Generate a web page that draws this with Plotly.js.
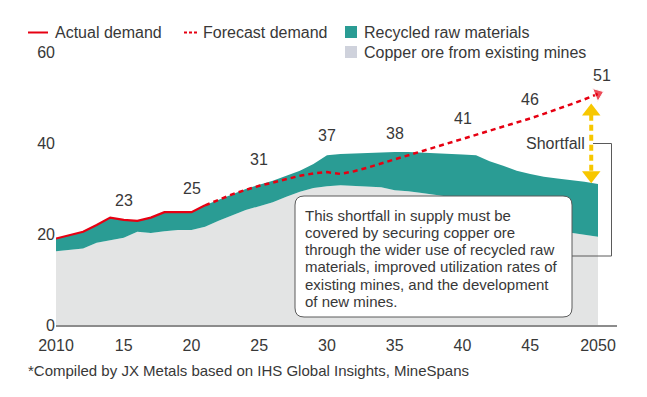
<!DOCTYPE html>
<html>
<head>
<meta charset="utf-8">
<script src="https://cdn.plot.ly/plotly-3.0.1.min.js"></script>
<style>html,body{margin:0;padding:0;background:#fff;}#chart{width:647px;height:397px;}</style>
</head>
<body>
<div id="chart"></div>
<script>
// ---------- data ----------
const years = [2010,2011,2012,2013,2014,2015,2016,2017,2018,2019,2020,
               2021,2022,2023,2024,2025,2026,2027,2028,2029,2030,
               2031,2032,2033,2034,2035,2036,2037,2038,2039,2040,
               2041,2042,2043,2044,2045,2046,2047,2048,2049,2050];
const existingMines = [16.2,16.5,16.8,18.1,18.6,19.2,20.5,20.2,20.6,20.9,20.9,
                       21.6,22.9,24.1,25.3,26.1,27.0,28.2,29.3,30.1,30.5,
                       30.7,30.6,30.5,30.3,29.6,29.4,29.0,28.6,28.2,27.4,
                       26.6,25.7,24.7,23.6,22.6,21.7,20.9,20.3,19.8,19.4];
const recycled = [2.8,3.2,3.7,3.9,5.0,3.9,2.4,3.4,4.2,3.9,3.9,
                  4.7,4.6,4.7,4.6,4.7,4.7,4.6,4.6,5.3,6.8,
                  6.9,7.1,7.3,7.7,8.4,8.6,8.9,9.2,9.4,10.1,
                  10.7,10.3,10.3,10.3,10.6,10.9,11.3,11.6,11.7,11.6];
const actualYears = [2010,2011,2012,2013,2014,2015,2016,2017,2018,2019,2020,2021];
const actualDemand = [19.0,19.7,20.5,22.0,23.6,23.1,22.9,23.6,24.8,24.8,24.8,26.3];
const forecastYears = [2021,2022,2023,2024,2025,2026,2027,2028,2029,2030,
                       2031,2032,2033,2034,2035,2036,2037,2038,2039,2040,
                       2041,2042,2043,2044,2045,2046,2047,2048,2049,2050];
const forecastDemand = [26.3,27.5,28.7,29.7,30.6,31.3,32.0,32.8,33.3,33.6,
                        33.2,33.8,34.6,35.5,36.4,37.3,38.2,39.1,40.0,40.9,
                        41.8,42.6,43.5,44.4,45.4,46.4,47.4,48.5,49.6,50.8];
const labelYears = [2015,2020,2025,2030,2035,2040,2045,2050];
const labelValues = [23,25,31,37,38,41,46,51];
const xTickVals = [2010,2015,2020,2025,2030,2035,2040,2045,2050];
const xTickText = ['2010','15','20','25','30','35','40','45','2050'];
const yTickVals = [0,20,40,60];

// ---------- styles / layout helpers ----------
const RED = '#e60012', TEAL = '#2a9c94', GRAY = '#e3e4e4', GRAY_SW = '#cfd2dc', GOLD = '#f7c700', TXT = '#383838';
const FONT = 'Liberation Sans, Arial, Helvetica, sans-serif';
const L = 56, R = 617, T = 52, B = 325, W = R - L, H = B - T;
const PX = x => (x - L) / W, PY = y => (B - y) / H;
const labelShift = [20,23,24,21,19,20,16,17];

const lastTotal = existingMines[existingMines.length-1] + recycled[recycled.length-1];
const lastForecast = forecastDemand[forecastDemand.length-1];
const arrowX = 2049.5;

const traces = [
  {x: years, y: existingMines, type:'scatter', mode:'lines', stackgroup:'s',
   line:{width:0, color:GRAY}, fillcolor:GRAY, hoverinfo:'skip', name:'Copper ore from existing mines'},
  {x: years, y: recycled, type:'scatter', mode:'lines', stackgroup:'s',
   line:{width:0, color:TEAL}, fillcolor:TEAL, hoverinfo:'skip', name:'Recycled raw materials'},
  {x: actualYears, y: actualDemand, type:'scatter', mode:'lines',
   line:{color:RED, width:2.2}, hoverinfo:'skip', name:'Actual demand'},
  {x: forecastYears, y: forecastDemand, type:'scatter', mode:'lines+markers',
   line:{color:RED, width:2.5, dash:'5px,4px'},
   marker:{symbol:'triangle-up', angleref:'previous', color:RED,
           size: forecastYears.map((_, i) => i === forecastYears.length-1 ? 12 : 0)},
   hoverinfo:'skip', name:'Forecast demand'},
  // shortfall double arrow (from forecast end down to supply end)
  {x:[arrowX, arrowX], y:[lastForecast - 4.6, lastTotal + 2.7], type:'scatter', mode:'lines',
   line:{color:GOLD, width:4, dash:'6px,4px'}, hoverinfo:'skip'},
  {x:[arrowX, arrowX], y:[lastForecast - 3.85, lastTotal + 1.9], type:'scatter', mode:'markers',
   marker:{symbol:['triangle-up','triangle-down'], size:16, color:GOLD}, hoverinfo:'skip'}
];

function rounded(x0p, x1p, topp, botp, r) {
  const x0 = PX(x0p), x1 = PX(x1p), y1 = PY(topp), y0 = PY(botp), rx = r / W, ry = r / H;
  return `M${x0+rx},${y1} L${x1-rx},${y1} Q${x1},${y1} ${x1},${y1-ry} L${x1},${y0+ry} Q${x1},${y0} ${x1-rx},${y0} ` +
         `L${x0+rx},${y0} Q${x0},${y0} ${x0},${y0+ry} L${x0},${y1-ry} Q${x0},${y1} ${x0+rx},${y1} Z`;
}

const shapes = [
  {type:'line', xref:'paper', yref:'paper', x0:PX(28), x1:PX(48), y0:PY(32.5), y1:PY(32.5), line:{color:RED, width:2}},
  {type:'line', xref:'paper', yref:'paper', x0:PX(184), x1:PX(199), y0:PY(32.5), y1:PY(32.5), line:{color:RED, width:2, dash:'3px,2px'}},
  {type:'rect', xref:'paper', yref:'paper', x0:PX(345), x1:PX(357), y0:PY(38), y1:PY(26), fillcolor:TEAL, line:{width:0}},
  {type:'rect', xref:'paper', yref:'paper', x0:PX(345), x1:PX(357), y0:PY(58), y1:PY(46), fillcolor:GRAY_SW, line:{width:0}},
  {type:'path', xref:'paper', yref:'paper', layer:'above', path: rounded(295, 572, 196, 317, 9),
   fillcolor:'#ffffff', line:{color:'#5a5a5a', width:1}},
  {type:'path', xref:'paper', yref:'paper', layer:'above',
   path:`M${PX(593)},${PY(143.5)} L${PX(611.5)},${PY(143.5)} L${PX(611.5)},${PY(256)} L${PX(572)},${PY(256)}`,
   line:{color:'#5a5a5a', width:1}}
];

const ann = [];
const addText = (text, x, y, anchor, size) => ann.push({text, xref:'paper', yref:'paper', x:PX(x), y:PY(y),
  xanchor:anchor, yanchor:'middle', showarrow:false, font:{family:FONT, size:size, color:TXT}});
addText('Actual demand', 53, 32, 'left', 16);
addText('Forecast demand', 201, 32, 'left', 16);
addText('Recycled raw materials', 362, 32, 'left', 16);
addText('Copper ore from existing mines', 362, 52, 'left', 16);
addText('Shortfall', 587, 143.5, 'right', 16);
const boxLines = ['This shortfall in supply must be','covered by securing copper ore',
  'through the wider use of recycled raw','materials, improved utilization rates of',
  'existing mines, and the development','of new mines.'];
boxLines.forEach((t, i) => addText(t, 303, 215 + i * 17.3, 'left', 15));
addText('*Compiled by JX Metals based on IHS Global Insights, MineSpans', 26, 370, 'left', 15);
labelYears.forEach((yr, i) => ann.push({text:String(labelValues[i]), x:yr, y:labelValues[i], xref:'x', yref:'y',
  yshift:labelShift[i], xshift: i === labelYears.length-1 ? 4 : 0, showarrow:false, yanchor:'middle',
  font:{family:FONT, size:16, color:TXT}}));

const layout = {
  width:647, height:397, margin:{l:L, r:647-R, t:T, b:397-B},
  paper_bgcolor:'#ffffff', plot_bgcolor:'#ffffff', showlegend:false, hovermode:false,
  font:{family:FONT, color:TXT},
  xaxis:{range:[2010, 2010 + W/13.55], tickvals:xTickVals, ticktext:xTickText, showgrid:false, zeroline:false,
         showline:true, linecolor:'#8c8c8c', linewidth:1.5, ticks:'', ticklabelstandoff:5,
         tickfont:{family:FONT, size:16, color:TXT}, fixedrange:true},
  yaxis:{range:[0,60], tickvals:yTickVals, showgrid:false, zeroline:false, showline:false, ticks:'',
         tickfont:{family:FONT, size:16, color:TXT}, fixedrange:true},
  shapes, annotations: ann
};
Plotly.newPlot('chart', traces, layout, {displayModeBar:false, staticPlot:true});
</script>
</body>
</html>
